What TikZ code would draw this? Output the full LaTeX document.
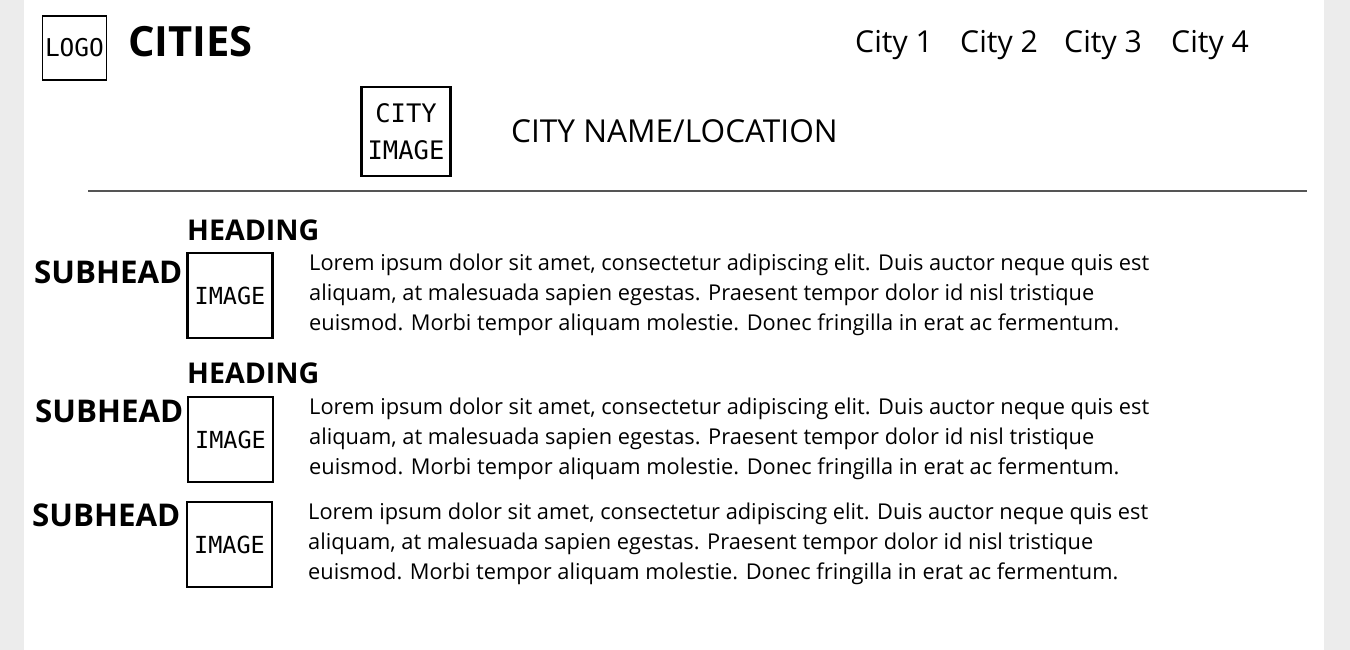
\documentclass[tikz,border=0pt]{standalone}
\usepackage{fontspec}
\setmainfont{Open Sans}
\newfontfamily\monof{DejaVu Sans Mono}
\definecolor{pagegrey}{HTML}{ECECEC}
\definecolor{rulegrey}{HTML}{555555}
\tikzset{
  box/.style={draw=black, line width=2.2pt, minimum width=#1, minimum height=#1, inner sep=0pt, font=\monof\fontsize{23.5}{26}\selectfont},
  box/.default=85pt,
  txt/.style={inner sep=0pt, anchor=west},
  navtxt/.style={txt, font=\fontsize{30.2}{36}\selectfont},
  headtxt/.style={txt, font=\bfseries\fontsize{28.6}{34}\selectfont},
  subtxt/.style={txt, font=\bfseries\fontsize{31.3}{36}\selectfont},
  bodytxt/.style={txt, align=left, font=\fontsize{21.8}{30}\selectfont},
}
\begin{document}
\begin{tikzpicture}[x=1pt,y=-1pt]
\fill[pagegrey] (0,0) rectangle (1350,650);
\fill[white] (24,0) rectangle (1324,650);
\useasboundingbox (0,0) rectangle (1350,650);

% header
\node[box=64pt, line width=1.8pt, font=\monof\fontsize{24.5}{30}\selectfont] (logo) at (74.5,48) {LOGO};
\node[txt, font=\bfseries\fontsize{41.7}{48}\selectfont] (title) at (128,42) {CITIES};
\node[navtxt] (c1) at (855,45) {City 1};
\node[navtxt] (c2) at (960,45) {City 2};
\node[navtxt] (c3) at (1064,45) {City 3};
\node[navtxt] (c4) at (1171,45) {City 4};

\node[box=89pt, align=center, font=\monof\fontsize{25.5}{37}\selectfont] (cityimg) at (406,131.5) {CITY\\IMAGE};
\node[txt, font=\fontsize{31.6}{36}\selectfont] (cityname) at (511,131) {CITY NAME/LOCATION};

\coordinate (ruleL) at (88,191);
\coordinate (ruleR) at (1307,191);
\draw[rulegrey, line width=1.2pt] (ruleL) -- (ruleR);

% section 1
\node[headtxt] (h1) at (187,230) {HEADING};
\node[subtxt] (s1) at (34,272) {SUBHEAD};
\node[box] (i1) at (230,295.5) {IMAGE};
\node[bodytxt] (b1) at (309,295) {Lorem ipsum dolor sit amet, consectetur adipiscing elit. Duis auctor neque quis est\\aliquam, at malesuada sapien egestas. Praesent tempor dolor id nisl tristique\\euismod. Morbi tempor aliquam molestie. Donec fringilla in erat ac fermentum.};

% section 2
\node[headtxt] (h2) at (187,373) {HEADING};
\node[subtxt] (s2) at (35,411) {SUBHEAD};
\node[box] (i2) at (230.5,439.5) {IMAGE};
\node[bodytxt] (b2) at (309,439) {Lorem ipsum dolor sit amet, consectetur adipiscing elit. Duis auctor neque quis est\\aliquam, at malesuada sapien egestas. Praesent tempor dolor id nisl tristique\\euismod. Morbi tempor aliquam molestie. Donec fringilla in erat ac fermentum.};

% section 3
\node[subtxt] (s3) at (32,515) {SUBHEAD};
\node[box] (i3) at (229.5,544.5) {IMAGE};
\node[bodytxt] (b3) at (308,544) {Lorem ipsum dolor sit amet, consectetur adipiscing elit. Duis auctor neque quis est\\aliquam, at malesuada sapien egestas. Praesent tempor dolor id nisl tristique\\euismod. Morbi tempor aliquam molestie. Donec fringilla in erat ac fermentum.};
\end{tikzpicture}
\end{document}
